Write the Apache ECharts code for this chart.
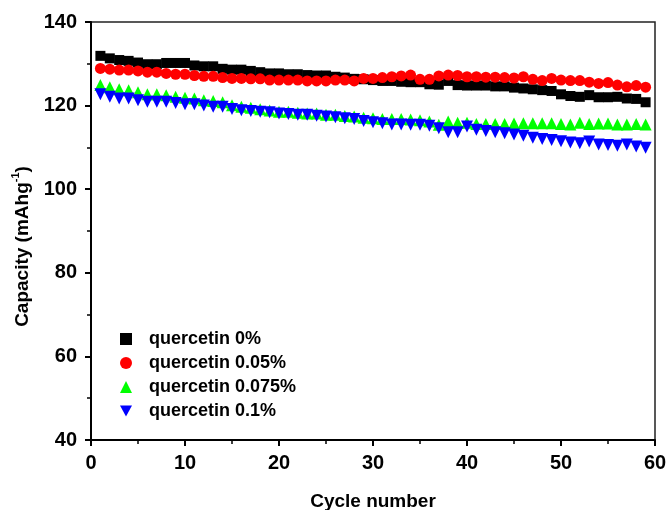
<!DOCTYPE html>
<html>
<head>
<meta charset="utf-8">
<script src="https://cdn.jsdelivr.net/npm/echarts@6/dist/echarts.min.js"></script>
<style>
  html, body { margin: 0; padding: 0; background: #fff; }
  #chartBox { width: 666px; height: 510px; }
</style>
</head>
<body>
<div id="chartBox"></div>
<script>
// cycle numbers (x)
const cycles = [1, 2, 3, 4, 5, 6, 7, 8, 9, 10, 11, 12, 13, 14, 15, 16, 17, 18, 19, 20,
  21, 22, 23, 24, 25, 26, 27, 28, 29, 30, 31, 32, 33, 34, 35, 36, 37, 38, 39, 40,
  41, 42, 43, 44, 45, 46, 47, 48, 49, 50, 51, 52, 53, 54, 55, 56, 57, 58, 59]

const seriesNames = ['quercetin 0%', 'quercetin 0.05%', 'quercetin 0.075%', 'quercetin 0.1%']

// capacity (mAh/g)
const q0 = [131.9, 131.3, 130.9, 130.7, 130.3, 129.9, 129.9, 130.2, 130.2, 130.2,
  129.6, 129.4, 129.4, 128.8, 128.6, 128.6, 128.3, 128.0, 127.7, 127.7,
  127.5, 127.5, 127.3, 127.2, 127.2, 126.9, 126.7, 126.4, 126.3, 126.1,
  125.9, 125.9, 125.7, 125.6, 125.6, 125.1, 125.0, 125.9, 124.9, 124.8,
  124.8, 124.8, 124.6, 124.6, 124.3, 124.1, 123.9, 123.7, 123.5, 122.7,
  122.3, 122.1, 122.5, 122.0, 122.0, 122.1, 121.7, 121.6, 120.8]
const q005 = [128.9, 128.7, 128.5, 128.5, 128.3, 128.0, 128.0, 127.7, 127.5, 127.5,
  127.2, 127.0, 127.0, 126.7, 126.5, 126.5, 126.4, 126.4, 126.1, 126.1,
  126.1, 126.1, 125.9, 125.9, 125.9, 126.1, 126.1, 125.9, 126.5, 126.5,
  126.7, 126.9, 127.1, 127.3, 126.3, 126.3, 127.1, 127.3, 127.2, 126.9,
  126.9, 126.8, 126.8, 126.7, 126.6, 126.9, 126.3, 126.0, 126.5, 126.1,
  126.0, 126.0, 125.6, 125.3, 125.5, 124.9, 124.5, 124.8, 124.4]
const q0075 = [124.9, 124.4, 123.9, 123.7, 123.2, 122.7, 122.7, 122.5, 122.1, 121.9,
  121.7, 121.3, 121.1, 120.8, 120.1, 119.7, 119.5, 119.1, 118.8, 118.5,
  118.5, 118.3, 118.1, 118.1, 117.8, 117.8, 117.5, 117.4, 117.1, 117.0,
  116.8, 116.8, 116.8, 116.7, 116.5, 116.2, 115.4, 116.2, 115.9, 115.9,
  115.6, 115.6, 115.6, 115.6, 115.7, 115.8, 115.8, 115.8, 115.8, 115.6,
  115.5, 115.9, 115.6, 115.7, 115.7, 115.5, 115.5, 115.6, 115.5]
const q01 = [122.7, 122.1, 121.7, 121.7, 121.3, 120.9, 120.9, 120.9, 120.6, 120.3,
  120.3, 120.0, 119.7, 119.7, 119.2, 118.9, 118.7, 118.5, 118.4, 118.1,
  118.0, 117.8, 117.8, 117.6, 117.4, 117.2, 117.0, 116.8, 116.3, 116.0,
  115.8, 115.5, 115.5, 115.4, 115.4, 115.2, 114.6, 113.6, 113.6, 115.0,
  114.2, 113.9, 113.6, 113.4, 113.1, 112.8, 112.3, 112.0, 111.8, 111.5,
  111.2, 111.0, 111.4, 110.7, 110.6, 110.4, 110.7, 110.2, 109.9]

const seriesValues = [q0, q005, q0075, q01]
const seriesColors = ['#000000', '#ff0000', '#00ff00', '#0000ff']
const seriesSymbols = ['rect', 'circle', 'triangle', 'path://M0,0 L10,0 L5,9 Z']
const symbolSizes = [10, 11, 12, 12]

const font = 'Arial, "Liberation Sans", sans-serif'

const myChart = echarts.init(document.getElementById('chartBox'))

const axisCommon = {
  axisLine: { lineStyle: { color: '#000', width: 2 } },
  axisTick: { length: 6, lineStyle: { color: '#000', width: 2 } },
  minorTick: { show: true, splitNumber: 2, length: 4, lineStyle: { color: '#000', width: 1.5 } },
  splitLine: { show: false },
  axisLabel: { fontSize: 20, fontWeight: 'bold', color: '#000', fontFamily: font, margin: 14 },
  nameLocation: 'middle',
  nameTextStyle: { fontSize: 19, fontWeight: 'bold', color: '#000', fontFamily: font }
}

const chartOptions = {
  animation: false,
  backgroundColor: '#fff',
  grid: {
    left: 91, right: 11, top: 22, bottom: 70,
    outerBoundsMode: 'none',
    show: true, borderColor: '#222', borderWidth: 1.5
  },
  xAxis: Object.assign({}, axisCommon, {
    type: 'value', min: 0, max: 60, interval: 10,
    name: 'Cycle number', nameGap: 52,
    axisLabel: Object.assign({}, axisCommon.axisLabel, { margin: 13 })
  }),
  yAxis: Object.assign({}, axisCommon, {
    type: 'value', min: 40, max: 140, interval: 20,
    name: '{a|Capacity (mAhg}{s|-1}{a|)}', nameGap: 53,
    nameTextStyle: {
      color: '#000',
      padding: [0, 31, 0, 0],
      rich: {
        a: { fontSize: 19, fontWeight: 'bold', color: '#000', fontFamily: font, lineHeight: 22, verticalAlign: 'bottom' },
        s: { fontSize: 11, fontWeight: 'bold', color: '#000', fontFamily: font, lineHeight: 11, verticalAlign: 'top' }
      }
    }
  }),
  legend: {
    data: seriesNames,
    orient: 'vertical',
    left: 115, top: 324,
    itemWidth: 12, itemHeight: 12, itemGap: 4,
    textStyle: { fontSize: 18, lineHeight: 20, fontWeight: 'bold', color: '#000', fontFamily: font, padding: [0, 0, 0, 12] }
  },
  series: seriesNames.map((name, i) => ({
    name: name,
    type: 'scatter',
    symbol: seriesSymbols[i],
    symbolSize: symbolSizes[i],
    itemStyle: { color: seriesColors[i], opacity: 1 },
    data: cycles.map((c, j) => [c, seriesValues[i][j]])
  }))
}

if (myChart) {
  myChart.setOption(chartOptions)
}
</script>
</body>
</html>
